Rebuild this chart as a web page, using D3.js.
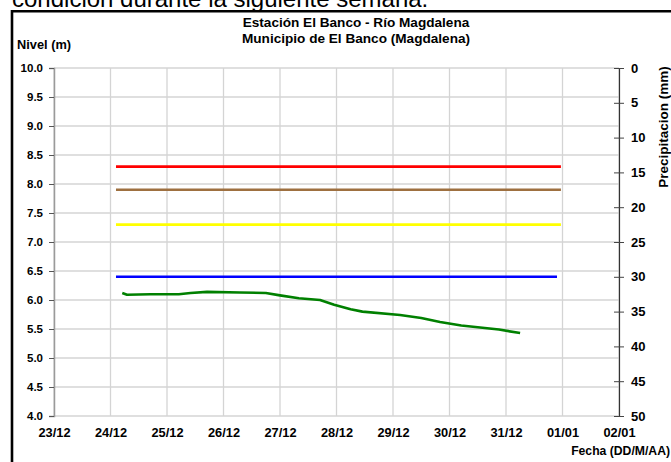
<!DOCTYPE html>
<html lang="es">
<head>
    <meta charset="UTF-8">
    <script src="https://d3js.org/d3.v7.min.js"></script>
    <title>Estación El Banco - Río Magdalena</title>
    <style>
        body { margin: 0; background: #fff; }
        svg { display: block; font-family: "Liberation Sans", Arial, sans-serif; }
        .lbl { font-weight: bold; fill: #000; }
    </style>
</head>
<body>
    <svg width="671" height="462"></svg>
    <script>
        // fechas del eje X (dia/mes)
        const dayTicks = ['23/12/2013', '24/12/2013', '25/12/2013', '26/12/2013', '27/12/2013',
            '28/12/2013', '29/12/2013', '30/12/2013', '31/12/2013', '01/01/2014', '02/01/2014'];
        const levelTicks = [4.0, 4.5, 5.0, 5.5, 6.0, 6.5, 7.0, 7.5, 8.0, 8.5, 9.0, 9.5, 10.0];
        const rainTicks = [0, 5, 10, 15, 20, 25, 30, 35, 40, 45, 50];

        // niveles de alerta
        const alertLevels = [8.3, 7.9, 7.3, 6.4];
        const alertColors = ['#ff0000', '#9e7040', '#ffff00', '#0000ff'];
        const alertStart = ['24/12/2013 02:20', '24/12/2013 02:20', '24/12/2013 02:20', '24/12/2013 02:20'];
        const alertEnd = ['31/12/2013 23:20', '31/12/2013 23:20', '31/12/2013 23:20', '31/12/2013 21:40'];

        // nivel observado
        const obsTimes = ['24/12/2013 05:00', '24/12/2013 07:00', '24/12/2013 17:00', '25/12/2013 05:00',
            '25/12/2013 10:00', '25/12/2013 17:00', '26/12/2013 07:00', '26/12/2013 18:00',
            '27/12/2013 00:00', '27/12/2013 08:00', '27/12/2013 17:00', '27/12/2013 23:00',
            '28/12/2013 06:00', '28/12/2013 11:00', '29/12/2013 03:00', '29/12/2013 12:00',
            '29/12/2013 20:00', '30/12/2013 05:00', '30/12/2013 21:00', '31/12/2013 06:00'];
        const obsLevels = [6.12, 6.09, 6.10, 6.10, 6.12, 6.14, 6.13, 6.12, 6.08, 6.03, 6.00, 5.92,
            5.84, 5.80, 5.74, 5.69, 5.62, 5.56, 5.49, 5.43];

        const parseDay = d3.timeParse('%d/%m/%Y');
        const parseTime = d3.timeParse('%d/%m/%Y %H:%M');
        const fmtDay = d3.timeFormat('%d/%m');

        const plot = { left: 54, right: 619, top: 68, bottom: 416 };

        const x = d3.scaleTime()
            .domain([parseDay(dayTicks[0]), parseDay(dayTicks[dayTicks.length - 1])])
            .range([plot.left, plot.right]);
        const y = d3.scaleLinear().domain([4, 10]).range([plot.bottom, plot.top]);
        const yR = d3.scaleLinear().domain([0, 50]).range([plot.top, plot.bottom]);

        const svg = d3.select('svg');
        svg.append('rect').attr('width', 671).attr('height', 462).attr('fill', '#fff');

        // texto cortado del documento
        svg.append('text')
            .attr('x', 12).attr('y', 7)
            .attr('font-size', 24)
            .text('condición durante la siguiente semana.');

        // marco
        svg.append('path')
            .attr('d', 'M12,470V11.2H680')
            .attr('fill', 'none').attr('stroke', '#000').attr('stroke-width', 2.6);

        // rejilla
        svg.append('g')
            .selectAll('line')
            .data(levelTicks)
            .join('line')
            .attr('x1', plot.left).attr('x2', plot.right)
            .attr('y1', d => y(d)).attr('y2', d => y(d))
            .attr('stroke', '#d4d4d4').attr('stroke-width', 1.3);
        svg.append('g')
            .selectAll('line')
            .data(dayTicks.map(parseDay))
            .join('line')
            .attr('x1', d => x(d)).attr('x2', d => x(d))
            .attr('y1', plot.top).attr('y2', plot.bottom)
            .attr('stroke', '#d4d4d4').attr('stroke-width', 1.3);

        // eje izquierdo
        const yAxis = d3.axisLeft(y).tickValues(levelTicks).tickFormat(d3.format('.1f'))
            .tickSize(5).tickPadding(6);
        const gl = svg.append('g').attr('transform', `translate(${plot.left},0)`).call(yAxis);
        gl.select('.domain').attr('stroke', '#9a9a9a').attr('stroke-width', 1.5);
        gl.selectAll('.tick line').attr('stroke', '#555');
        gl.selectAll('.tick text').attr('class', 'lbl').attr('font-size', 11.5)
            .attr('font-family', '"Liberation Sans", Arial, sans-serif');

        // eje derecho (precipitacion)
        const rAxis = d3.axisRight(yR).tickValues(rainTicks).tickSize(0).tickPadding(12);
        const gr = svg.append('g').attr('transform', `translate(${plot.right},0)`).call(rAxis);
        gr.select('.domain').attr('stroke', '#333').attr('stroke-width', 1.2);
        gr.selectAll('.tick').append('line')
            .attr('x1', -5).attr('x2', 5).attr('stroke', '#444');
        gr.selectAll('.tick text').attr('class', 'lbl').attr('font-size', 13)
            .attr('font-family', '"Liberation Sans", Arial, sans-serif');

        // eje X
        const xAxis = d3.axisBottom(x).tickValues(dayTicks.map(parseDay)).tickFormat(fmtDay)
            .tickSize(0).tickPadding(12);
        const gx = svg.append('g').attr('transform', `translate(0,${plot.bottom})`).call(xAxis);
        gx.select('.domain').remove();
        gx.selectAll('.tick text').attr('class', 'lbl').attr('font-size', 12.8)
            .attr('font-family', '"Liberation Sans", Arial, sans-serif');

        // niveles de alerta
        svg.append('g')
            .selectAll('line')
            .data(alertLevels)
            .join('line')
            .attr('x1', (d, i) => x(parseTime(alertStart[i])))
            .attr('x2', (d, i) => x(parseTime(alertEnd[i])))
            .attr('y1', d => y(d)).attr('y2', d => y(d))
            .attr('stroke', (d, i) => alertColors[i])
            .attr('stroke-width', 2.6);

        // nivel observado
        const line = d3.line()
            .x((d, i) => x(parseTime(obsTimes[i])))
            .y(d => y(d));
        svg.append('path')
            .datum(obsLevels)
            .attr('d', line)
            .attr('fill', 'none')
            .attr('stroke', '#008000')
            .attr('stroke-width', 2.6)
            .attr('stroke-linejoin', 'round');

        // titulos
        svg.append('text').attr('class', 'lbl').attr('x', 356).attr('y', 27)
            .attr('text-anchor', 'middle').attr('font-size', 13.6)
            .text('Estación El Banco - Río Magdalena');
        svg.append('text').attr('class', 'lbl').attr('x', 356).attr('y', 43)
            .attr('text-anchor', 'middle').attr('font-size', 13.6)
            .text('Municipio de El Banco (Magdalena)');
        svg.append('text').attr('class', 'lbl').attr('x', 17).attr('y', 49)
            .attr('font-size', 12.8)
            .text('Nivel (m)');
        svg.append('text').attr('class', 'lbl')
            .attr('transform', 'translate(668,127) rotate(-90)')
            .attr('text-anchor', 'middle').attr('font-size', 13.5)
            .text('Precipitacion (mm)');
        svg.append('text').attr('class', 'lbl').attr('x', 670).attr('y', 455)
            .attr('text-anchor', 'end').attr('font-size', 12.2)
            .text('Fecha (DD/M/AA)');
    </script>
</body>
</html>
